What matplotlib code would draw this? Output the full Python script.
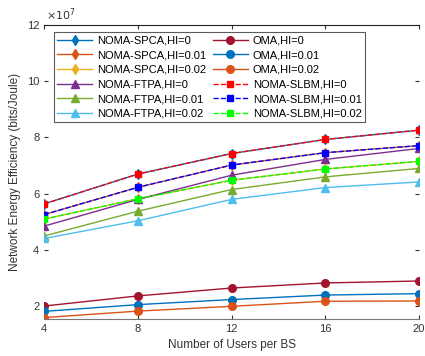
import matplotlib
matplotlib.use("Agg")
import matplotlib.pyplot as plt

# data (values in units of 1e7 bits/Joule)
users = [4, 8, 12, 16, 20]

spca_hi0 = [5.64, 6.70, 7.43, 7.93, 8.26]
spca_hi001 = [5.26, 6.23, 7.02, 7.46, 7.71]
spca_hi002 = [5.10, 5.82, 6.48, 6.88, 7.15]
ftpa_hi0 = [4.85, 5.80, 6.66, 7.22, 7.61]
ftpa_hi001 = [4.50, 5.38, 6.15, 6.60, 6.90]
ftpa_hi002 = [4.41, 5.04, 5.80, 6.22, 6.42]
oma_hi0 = [2.01, 2.37, 2.65, 2.83, 2.90]
oma_hi001 = [1.82, 2.06, 2.24, 2.40, 2.45]
oma_hi002 = [1.60, 1.83, 2.00, 2.18, 2.19]
slbm_hi0 = [5.64, 6.70, 7.43, 7.93, 8.26]
slbm_hi001 = [5.26, 6.23, 7.02, 7.46, 7.71]
slbm_hi002 = [5.10, 5.82, 6.48, 6.88, 7.15]

# matlab default colours
c_blue = (0, 0.447, 0.741)
c_orange = (0.85, 0.325, 0.098)
c_yellow = (0.929, 0.694, 0.125)
c_purple = (0.494, 0.184, 0.556)
c_green = (0.466, 0.674, 0.188)
c_cyan = (0.301, 0.745, 0.933)
c_red = (0.635, 0.078, 0.184)

plt.rcParams['font.family'] = ['Liberation Sans', 'DejaVu Sans']

fig = plt.figure(figsize=(4.25, 3.56), dpi=100)
ax = fig.add_axes([0.104, 0.104, 0.882, 0.826])

lw = 1.0
ms = 5.5
l1, = ax.plot(users, spca_hi0, '-d', color=c_blue, lw=lw, ms=ms, label='NOMA-SPCA,HI=0')
l2, = ax.plot(users, spca_hi001, '-d', color=c_orange, lw=lw, ms=ms, label='NOMA-SPCA,HI=0.01')
l3, = ax.plot(users, spca_hi002, '-d', color=c_yellow, lw=lw, ms=ms, label='NOMA-SPCA,HI=0.02')
l4, = ax.plot(users, ftpa_hi0, '-^', color=c_purple, lw=lw, ms=ms, label='NOMA-FTPA,HI=0')
l5, = ax.plot(users, ftpa_hi001, '-^', color=c_green, lw=lw, ms=ms, label='NOMA-FTPA,HI=0.01')
l6, = ax.plot(users, ftpa_hi002, '-^', color=c_cyan, lw=lw, ms=ms, label='NOMA-FTPA,HI=0.02')
l7, = ax.plot(users, oma_hi0, '-o', color=c_red, lw=lw, ms=ms, label='OMA,HI=0')
l8, = ax.plot(users, oma_hi001, '-o', color=c_blue, lw=lw, ms=ms, label='OMA,HI=0.01')
l9, = ax.plot(users, oma_hi002, '-o', color=c_orange, lw=lw, ms=ms, label='OMA,HI=0.02')
l10, = ax.plot(users, slbm_hi0, '--s', color='r', lw=lw, ms=5, label='NOMA-SLBM,HI=0')
l11, = ax.plot(users, slbm_hi001, '--s', color='b', lw=lw, ms=5, label='NOMA-SLBM,HI=0.01')
l12, = ax.plot(users, slbm_hi002, '--s', color='#00ff00', lw=lw, ms=5, label='NOMA-SLBM,HI=0.02')

ax.set_xlim(4, 20)
ax.set_ylim(1.55, 12)
ax.set_xticks(users)
ax.set_yticks([2, 4, 6, 8, 10, 12])
ax.tick_params(direction='in', labelsize=8, length=3, right=True, top=True, colors='#333333')
ax.spines['left'].set_visible(False)
ax.spines['right'].set_visible(False)
ax.spines['bottom'].set_color('#777777')
ax.spines['top'].set_color('#222222')
ax.text(0.005, 1.005, r'$\times10^7$', transform=ax.transAxes, fontsize=8, color='#333333',
        ha='left', va='bottom')

ax.set_xlabel('Number of Users per BS', fontsize=8.5, color='#333333')
ax.set_ylabel('Network Energy Efficiency (bits/Joule)', fontsize=8.5, color='#333333')

handles = [l1, l2, l3, l4, l5, l6, l7, l8, l9, l10, l11, l12]
leg = ax.legend(handles=handles, ncol=2, loc='upper left', bbox_to_anchor=(0.025, 0.975),
                fontsize=8, frameon=True, fancybox=False, edgecolor='#333333',
                handlelength=3.2, columnspacing=0.6, labelspacing=0.42, borderpad=0.3,
                handletextpad=0.4, borderaxespad=0)
leg.get_frame().set_linewidth(0.8)

fig.savefig('out.png', dpi=100)
